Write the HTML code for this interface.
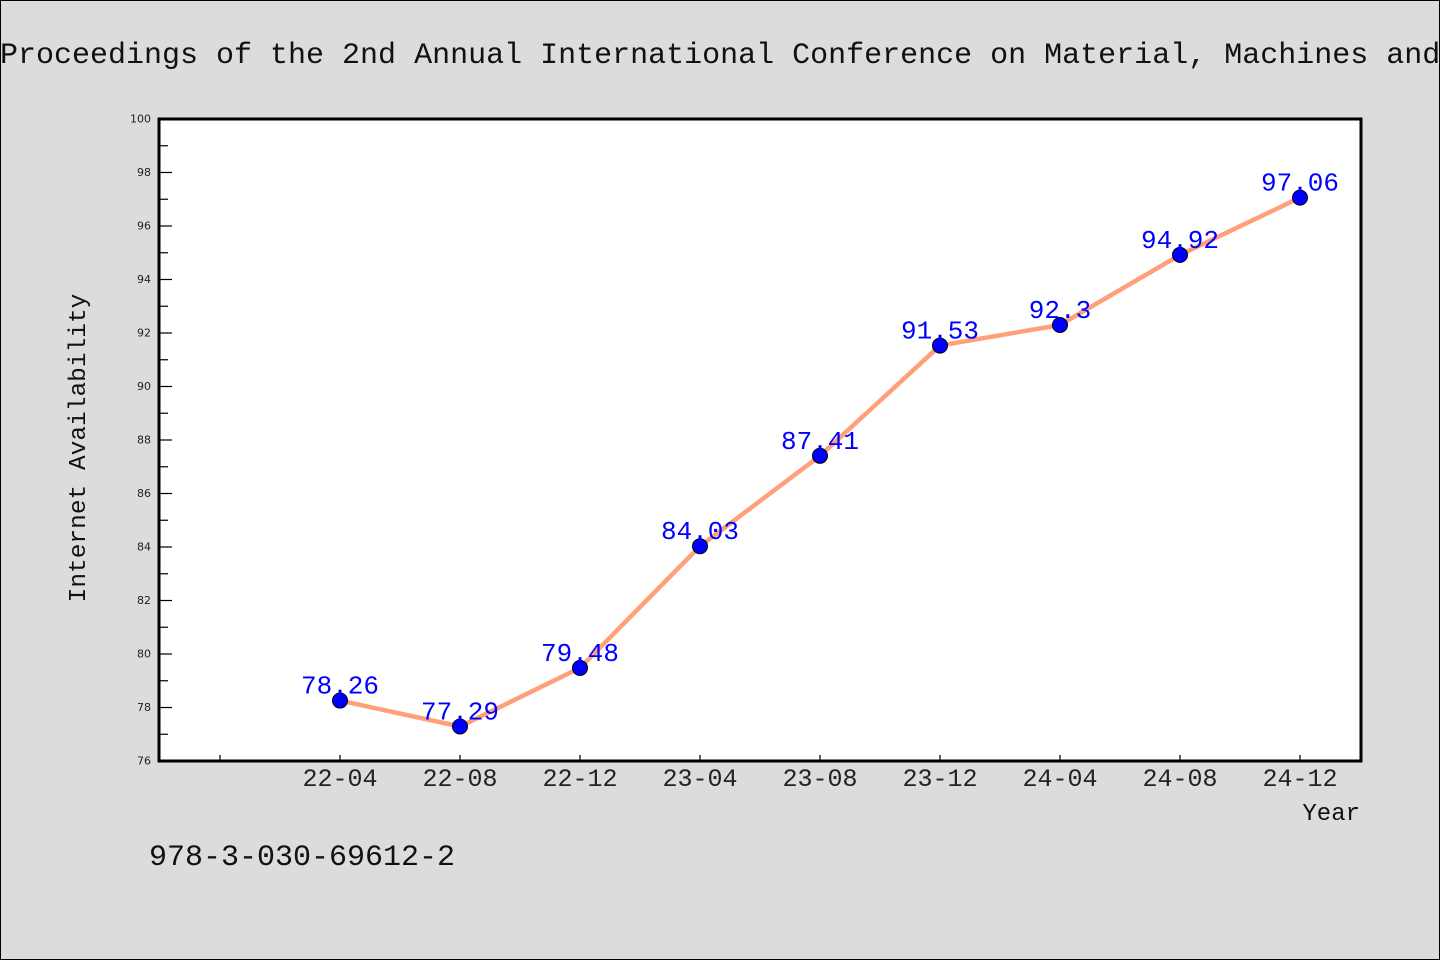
<!DOCTYPE html>
<html><head><meta charset="utf-8"><style>
html,body{margin:0;padding:0;background:#dcdcdc;}
svg{display:block;}
</style></head><body>
<svg width="1440" height="960" xmlns="http://www.w3.org/2000/svg" font-family="'Liberation Mono', 'DejaVu Sans Mono', monospace">
<rect x="0.5" y="0.5" width="1439" height="959" fill="#dcdcdc" stroke="#000"/>
<text x="0" y="63" font-size="30" fill="#111">Proceedings of the 2nd Annual International Conference on Material, Machines and</text>
<rect x="159" y="119" width="1202" height="642" fill="#fff" stroke="#000" stroke-width="3"/>
<g id="yaxis"></g>
<g id="xaxis"></g>
<g id="series"></g>
<text transform="translate(85,448) rotate(-90)" text-anchor="middle" font-size="24.5" fill="#111">Internet Availability</text>
<text x="1360" y="820" text-anchor="end" font-size="24" fill="#111">Year</text>
<text x="149" y="865" font-size="30" fill="#111">978-3-030-69612-2</text>
</svg>
<script>
const categories = ["22-04","22-08","22-12","23-04","23-08","23-12","24-04","24-08","24-12"];
const values = [78.26,77.29,79.48,84.03,87.41,91.53,92.3,94.92,97.06];
const valueLabels = ["78.26","77.29","79.48","84.03","87.41","91.53","92.3","94.92","97.06"];
const yTicks = [76,78,80,82,84,86,88,90,92,94,96,98,100];
const NS="http://www.w3.org/2000/svg";
const yMin=76,yMax=100,plotTop=119,plotBot=761;
function y(v){return plotBot-(v-yMin)/(yMax-yMin)*(plotBot-plotTop);}
function x(i){return 340+120*i;}
function mk(t,a,p){const e=document.createElementNS(NS,t);for(const k in a)e.setAttribute(k,a[k]);p.appendChild(e);return e;}
const ya=document.getElementById('yaxis');
yTicks.forEach(v=>{
  const l=mk('line',{x1:159,x2:172,y1:y(v),y2:y(v),stroke:'#000','stroke-width':1.2},ya);
  
  
  const t=mk('text',{x:151,y:y(v)+3.5,'text-anchor':'end','font-size':11,'font-family':"'DejaVu Sans',sans-serif",fill:'#222'},ya);
  t.textContent=v;
  
  
  if(v<yMax){const m=mk('line',{x1:159,x2:168,y1:y(v+1),y2:y(v+1),stroke:'#000','stroke-width':1.2},ya);
  
  }
});
const xa=document.getElementById('xaxis');
const t0=mk('line',{x1:x(-1),x2:x(-1),y1:plotBot,y2:plotBot-6,stroke:'#000','stroke-width':1.2},xa);


categories.forEach((c,i)=>{
  const l=mk('line',{x1:x(i),x2:x(i),y1:plotBot,y2:plotBot-6,stroke:'#000','stroke-width':1.2},xa);
  
  
  const t=mk('text',{x:x(i),y:786,'text-anchor':'middle','font-size':25,fill:'#222'},xa);
  t.textContent=c;
  
  
});
const s=document.getElementById('series');
const pl=mk('polyline',{points:values.map((v,i)=>x(i)+','+y(v)).join(' '),fill:'none',stroke:'#ffa07a','stroke-width':4.5,'stroke-linejoin':'round'},s);


values.forEach((v,i)=>{
  const c=mk('circle',{cx:x(i),cy:y(v),r:7.5,fill:'#0000ff',stroke:'#000','stroke-width':1},s);
  
  
  const t=mk('text',{x:x(i),y:y(v)-7,'text-anchor':'middle','font-size':26,fill:'#0000ff'},s);
  t.textContent=valueLabels[i];
  
  
});
</script>
</body></html>
